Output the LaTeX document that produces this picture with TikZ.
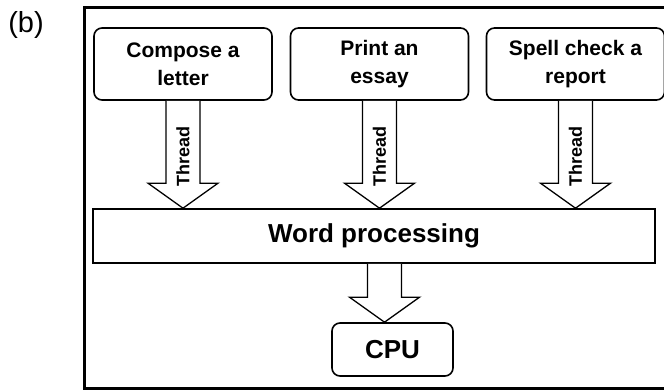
\documentclass[tikz,border=0pt]{standalone}
\usepackage{fontspec}
\setmainfont{Liberation Sans}
\usetikzlibrary{calc}

\newcommand{\fatarrow}[3]{%
  \draw[fat] ($(#1)+(-17,0)$) -- ($(#2)+(-17,-25)$) -- ($(#2)+(-35,-25)$)
    -- (#2) -- ($(#2)+(35,-25)$) -- ($(#2)+(17,-25)$) -- ($(#1)+(17,0)$);
  \path (#1) -- ($(#2)+(0,-25)$) node[pos=0.68,thread]{#3};}

\begin{document}
\begin{tikzpicture}[x=1pt,y=-1pt,
    task/.style={draw,line width=1.6pt,rounded corners=8pt,minimum width=178pt,
      minimum height=72pt,inner sep=0pt,align=center,
      font=\fontsize{21}{28}\selectfont\bfseries},
    stage/.style={draw,line width=1.6pt,inner sep=0pt,
      font=\fontsize{26}{28}\selectfont\bfseries},
    fat/.style={draw,line width=1.3pt,fill=white},
    thread/.style={rotate=90,inner sep=0pt,font=\fontsize{18}{20}\selectfont\bfseries}]
  \useasboundingbox (0,0) rectangle (664,390);
  \draw[line width=3pt] (84,8) rectangle (672,388);
  \node[font=\fontsize{29}{32}\selectfont] (lbl) at (26,25) {(b)};
  \draw
    (183,64) node[task] (t1){Compose a\\letter}
    (379.5,64) node[task] (t2){Print an\\essay}
    (575.5,64) node[task] (t3){Spell check a\\report}
    (374,236) node[stage,minimum width=562pt,minimum height=54pt] (wp){Word processing}
    (392.5,349.5) node[task,minimum width=121pt,minimum height=53pt,
      font=\fontsize{26}{28}\selectfont\bfseries] (cpu){CPU};
  \coordinate (h1) at (wp.north -| t1);
  \coordinate (h2) at (wp.north -| t2);
  \coordinate (h3) at (wp.north -| t3);
  \coordinate (c0) at ($(cpu.north)+(-8,0)$);
  \coordinate (w0) at (wp.south -| c0);
  \begin{scope}
    \fatarrow{t1.south}{h1}{Thread}
    \fatarrow{t2.south}{h2}{Thread}
    \fatarrow{t3.south}{h3}{Thread}
    \fatarrow{w0}{c0}{}
  \end{scope}
\end{tikzpicture}
\end{document}
